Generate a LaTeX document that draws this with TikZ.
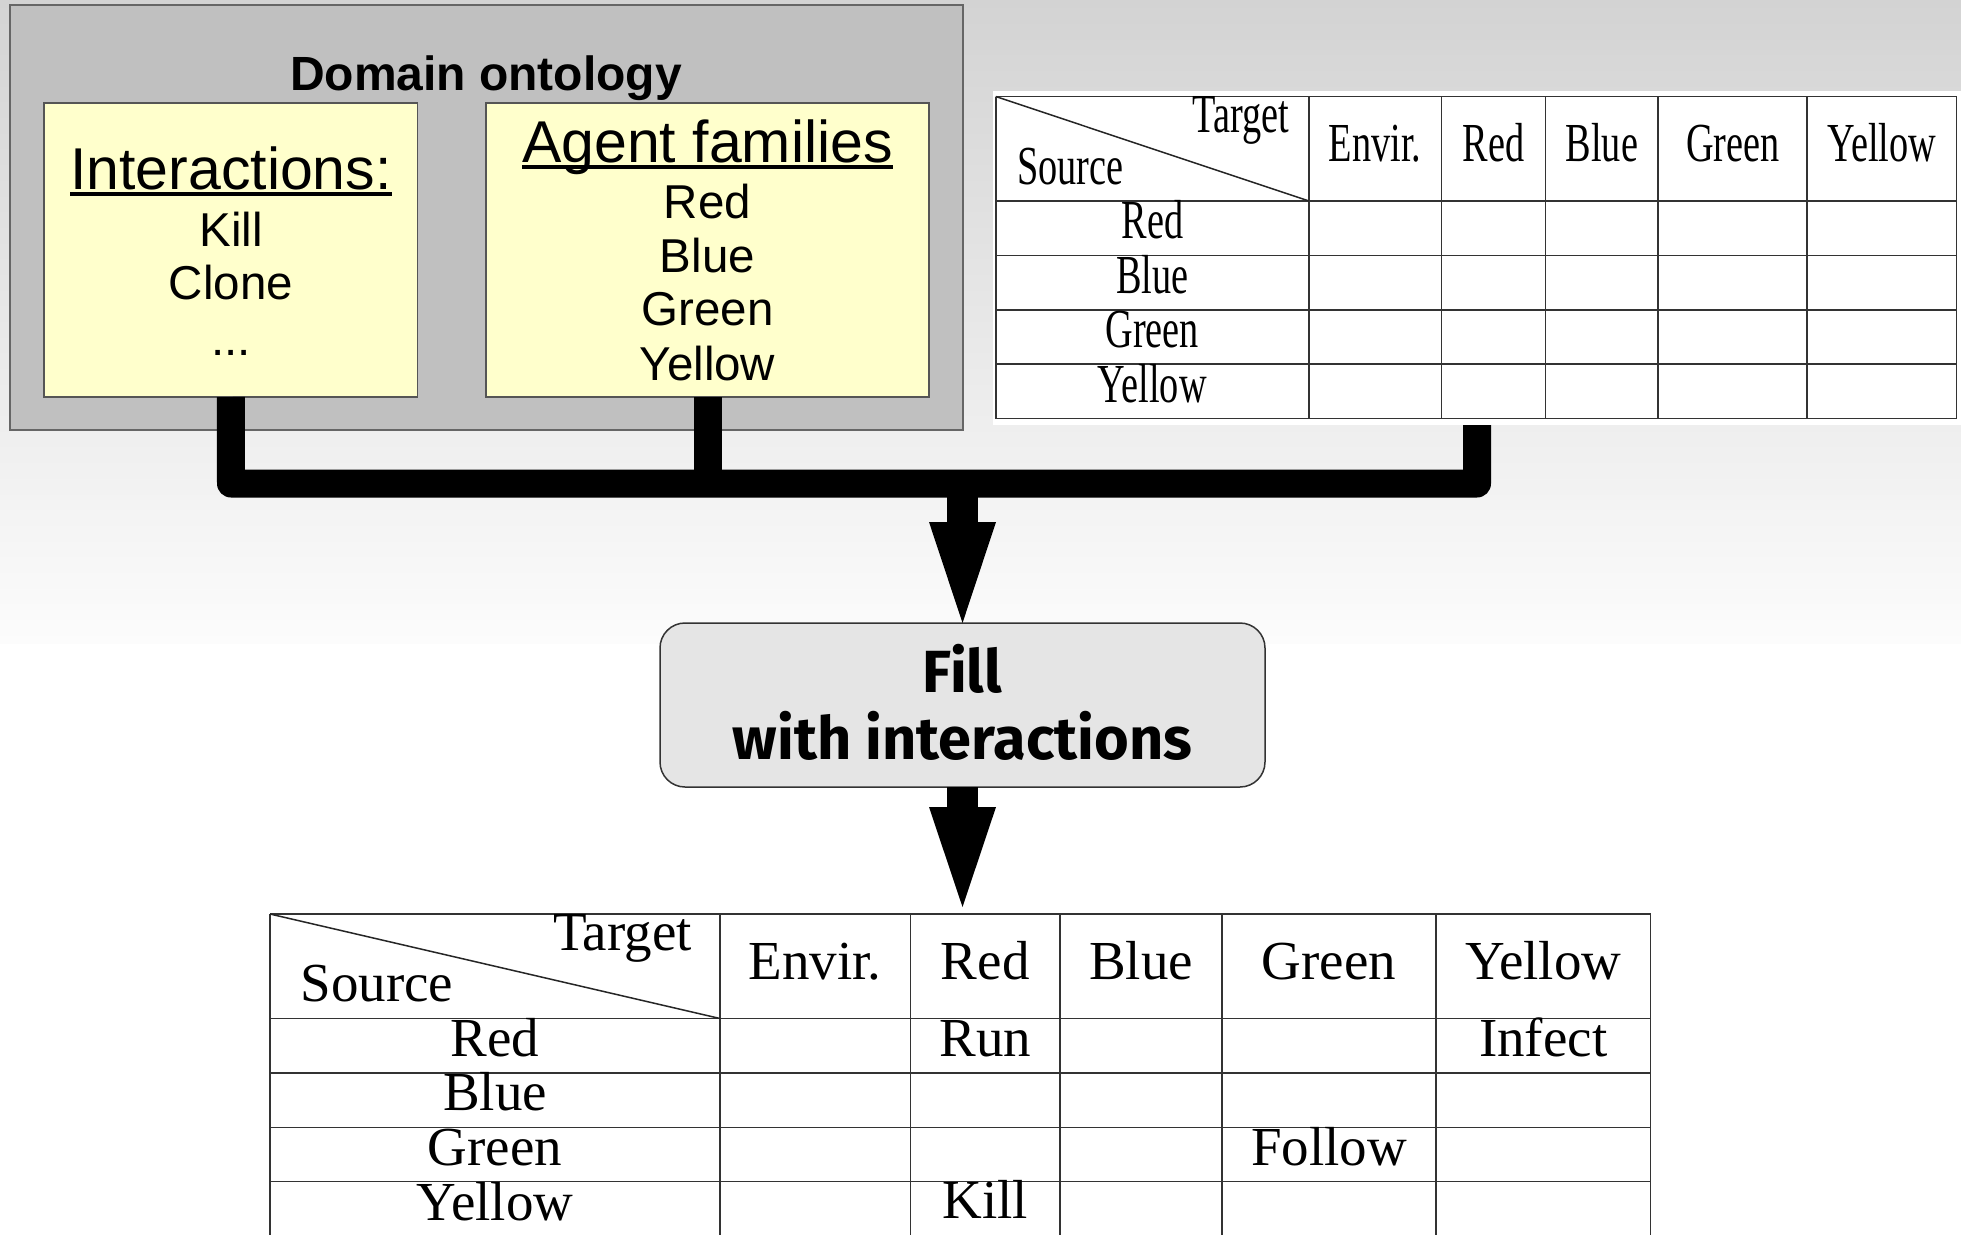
\documentclass[tikz,border=0pt]{standalone}
\usepackage{fontspec}
\setmainfont{Liberation Serif}
\newfontfamily\arialf{Liberation Sans}
\newfontfamily\firaf{Fira Sans}
\usetikzlibrary{calc}
\definecolor{bgtop}{RGB}{211,211,211}
\definecolor{bgbot}{RGB}{252,252,252}
\definecolor{ontgray}{RGB}{192,192,192}
\definecolor{paleyellow}{RGB}{255,255,204}
\definecolor{fillgray}{RGB}{229,229,229}
\definecolor{edgegray}{RGB}{85,85,85}
\newcommand{\ulbox}[1]{\setbox0\hbox{#1}\rlap{\rule[-6.5pt]{\wd0}{3.5pt}}\box0}
\tikzset{
  txt/.style={inner sep=0pt, outer sep=0pt, anchor=base},
  tabtxt/.style={txt, font=\fontsize{55}{66}\selectfont},
  headtxt/.style={txt, font=\arialf\fontsize{59}{70}\selectfont},
  itemtxt/.style={txt, font=\arialf\fontsize{47.5}{57}\selectfont},
  filltxt/.style={txt, font=\firaf\bfseries\fontsize{59.5}{70}\selectfont},
  tabline/.style={draw=black!80, line width=1.8pt},
  diagline/.style={draw=black!85, line width=1.5pt},
  ybox/.style={draw=edgegray, line width=1.5pt, fill=paleyellow, inner sep=0pt, outer sep=0pt, anchor=north west},
  bus/.style={draw=black, line width=28pt, line join=round, line cap=butt},
  shaft/.style={draw=black, line width=31pt, line cap=butt},
}
\newcommand{\drawtab}[1]{%
  \draw[tabline] (0,0) -- (1380.5,0);
  \foreach \yy in {104.5,159,213.5,267.5,322} {\draw[tabline] (0,\yy) -- (1380.5,\yy);}
  \foreach \xx in {0,450,640.5,790,952,1166,1380.5} {\draw[tabline] (\xx,0) -- (\xx,322);}
  \draw[diagline] (0,0) -- (450,104.5);
  \node[tabtxt] (#1tgt) at (352.5,36) {Target};
  \node[tabtxt] (#1src) at (107,87.7) {Source};
  \node[tabtxt] (#1hE) at (545.25,65) {Envir.};
  \node[tabtxt] (#1hR) at (715.25,65) {Red};
  \node[tabtxt] (#1hB) at (871,65) {Blue};
  \node[tabtxt] (#1hG) at (1059,65) {Green};
  \node[tabtxt] (#1hY) at (1273.25,65) {Yellow};
  \node[tabtxt] (#1rR) at (225,142) {Red};
  \node[tabtxt] (#1rB) at (225,196.7) {Blue};
  \node[tabtxt] (#1rG) at (225,251) {Green};
  \node[tabtxt] (#1rY) at (225,306) {Yellow};
}
\begin{document}
\begin{tikzpicture}[x=1pt,y=-1pt]
\useasboundingbox (0,0) rectangle (1961,1234);
\clip (0,0) rectangle (1961,1234);
% background
\fill[white] (0,0) rectangle (1961,1234);
\shade[top color=bgtop, bottom color=bgbot] (0,0) rectangle (1961,643);

% domain ontology
\node[draw=black!60, line width=2pt, fill=ontgray, minimum width=953pt, minimum height=425pt, inner sep=0pt, outer sep=0pt, anchor=north west] (onto) at (9.5,5) {};
\node[txt, font=\arialf\bfseries\fontsize{48}{58}\selectfont] (ontot) at (486,90) {Domain ontology};

\node[ybox, minimum width=373.5pt, minimum height=294pt] (intbox) at (44,103) {};
\node[headtxt] (inth) at (231,189) {\ulbox{Interactions:}};
\node[itemtxt] (intk) at (231,246) {Kill};
\node[itemtxt] (intc) at (231,299) {Clone};
\node[itemtxt] (intd) at (231,355) {...};

\node[ybox, minimum width=443pt, minimum height=294pt] (agbox) at (486,103) {};
\node[headtxt] (agh) at (707.5,162) {\ulbox{Agent families}};
\node[itemtxt] (agr) at (707.5,218) {Red};
\node[itemtxt] (agb) at (707.5,272) {Blue};
\node[itemtxt] (agg) at (707.5,325) {Green};
\node[itemtxt] (agy) at (707.5,380) {Yellow};

% top table
\node[fill=white, minimum width=968.5pt, minimum height=334pt, inner sep=0pt, outer sep=0pt, anchor=north west] (toptab) at (992.5,91) {};
\begin{scope}[shift={(995.7,96.5)}, xscale=0.696, transform shape]
  \drawtab{t}
\end{scope}

% fill box
\node[draw=black!80, line width=1.5pt, fill=fillgray, rounded corners=25pt, minimum width=605pt, minimum height=164pt, inner sep=0pt, outer sep=0pt, anchor=north west] (fillbox) at (660,623) {};
\node[filltxt] (fill1) at (962.5,692.7) {Fill};
\node[filltxt] (fill2) at (962.5,759.3) {with interactions};

% bus connectors
\coordinate (busL) at (231,483.5);
\coordinate (busR) at (1477,483.5);
\draw[bus] (intbox.south) -- (busL) -- (busR) -- (busR |- toptab.south);
\draw[bus] (agbox.south) -- (agbox.south |- busL);

% arrow 1
\draw[shaft] (busL -| fillbox.north) -- ($(fillbox.north)+(0,-100)$);
\fill[black] (fillbox.north) -- ++(-33.5,-101) -- ++(67,0) -- cycle;

% bottom table
\begin{scope}[shift={(270,914)}]
  \drawtab{b}
  \node[tabtxt] (bRun) at (715.25,142) {Run};
  \node[tabtxt] (bInf) at (1273.25,142) {Infect};
  \node[tabtxt] (bFol) at (1059,251) {Follow};
  \node[tabtxt] (bKil) at (715.25,304) {Kill};
  \coordinate (btop) at (692.5,0);
\end{scope}

% arrow 2
\coordinate (tip2) at ($(btop)+(0,-7)$);
\draw[shaft] (fillbox.south) -- ($(tip2)+(0,-99)$);
\fill[black] (tip2) -- ++(-33.5,-100) -- ++(67,0) -- cycle;
\end{tikzpicture}
\end{document}
